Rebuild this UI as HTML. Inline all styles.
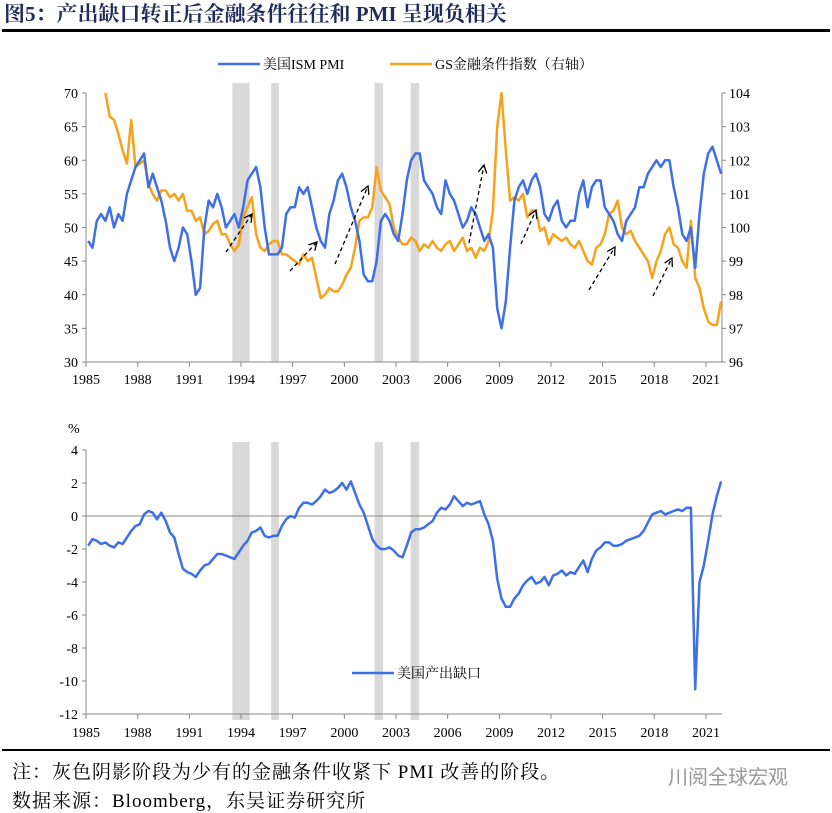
<!DOCTYPE html>
<html><head><meta charset="utf-8">
<style>
body{margin:0;background:#fff;}
svg{display:block;font-family:"Liberation Serif","Noto Serif CJK SC",serif;}
</style></head>
<body>
<svg id="c" width="832" height="813" viewBox="0 0 832 813" xmlns="http://www.w3.org/2000/svg">
<text x="4" y="21" font-size="21" font-weight="bold" fill="#1f2d5a">图5：产出缺口转正后金融条件往往和 PMI 呈现负相关</text>
<rect x="2" y="29" width="828" height="3" fill="#000"/>
<rect x="2" y="749" width="828" height="2" fill="#000"/>
<text x="12" y="778" font-size="19" letter-spacing="1">注：灰色阴影阶段为少有的金融条件收紧下 PMI 改善的阶段。</text>
<text x="12" y="807" font-size="19" letter-spacing="1">数据来源：Bloomberg，东吴证券研究所</text>
<text x="668" y="784" font-size="20" fill="#999" font-family="Liberation Sans,Noto Sans CJK SC,sans-serif">川阅全球宏观</text>
<g id="topg"></g><g id="botg"></g>
</svg>
<script>
const years=["1985","1988","1991","1994","1997","2000","2003","2006","2009","2012","2015","2018","2021"];
const leftTicks=[30,35,40,45,50,55,60,65,70];
const rightTicks=[96,97,98,99,100,101,102,103,104];
const botTicks=[-12,-10,-8,-6,-4,-2,0,2,4];
const pmiStart=1985;
const pmi=[48,47,51,52,51,53,50,52,51,55,57,59,60,61,56,58,56,54,51,47,45,47,50,49,45,40,41,50,54,53,55,53,50,51,52,50,53,57,58,59,56,50,46,46,46,47,52,53,53,56,55,56,53,50,48,47,52,54,57,58,56,53,51,48,43,42,42,45,51,52,51,49,48,52,57,60,61,61,57,56,55,53,52,57,55,54,52,50,51,53,52,50,48,49,47,38,35,39,47,54,56,57,55,57,58,56,52,51,53,54,51,50,51,51,55,57,53,56,57,57,53,52,51,49,48,51,52,53,56,56,58,59,60,59,60,60,56,53,49,48,50,44,52,58,61,62,60,58];
const fciStart=1986;
const fci=[104,103.3,103.2,102.8,102.3,101.9,103.2,101.8,101.9,102,101.3,101,100.8,101.1,101.1,100.9,101,100.8,101,100.5,100.5,100.2,100.3,99.8,99.9,100.1,100.2,99.8,99.8,99.5,99.3,99.5,100.3,100.6,100.9,99.8,99.4,99.3,99.5,99.6,99.6,99.2,99.2,99.1,99,98.9,99.2,99,99.1,98.5,97.9,98,98.2,98.1,98.1,98.3,98.6,98.8,99.4,100.2,100.3,100.3,100.6,101.8,101.1,100.9,100.7,100,99.7,99.5,99.5,99.7,99.6,99.3,99.5,99.4,99.6,99.4,99.3,99.5,99.6,99.3,99.5,99.7,99.3,99.4,99.1,99.4,99.3,99.6,100.5,103,104,102.3,100.8,100.9,100.8,101,100.3,100.5,100.5,99.9,100,99.5,99.8,99.7,99.6,99.7,99.5,99.4,99.6,99.3,99,98.9,99.4,99.5,99.8,100.4,100.5,100.8,100,99.8,99.9,99.6,99.4,99.2,99,98.5,99,99.3,99.8,100,99.5,99.4,99,98.8,100.2,98.5,98.2,97.6,97.2,97.1,97.1,97.8];
const gapStart=1985;
const gap=[-1.8,-1.4,-1.5,-1.7,-1.6,-1.8,-1.9,-1.6,-1.7,-1.3,-0.9,-0.6,-0.5,0.1,0.3,0.2,-0.2,0.2,-0.3,-1.0,-1.3,-2.3,-3.2,-3.4,-3.5,-3.7,-3.3,-3.0,-2.9,-2.6,-2.3,-2.3,-2.4,-2.5,-2.6,-2.2,-1.8,-1.5,-1.0,-0.9,-0.7,-1.2,-1.3,-1.2,-1.2,-0.6,-0.2,0.0,-0.1,0.5,0.8,0.8,0.7,0.9,1.2,1.6,1.4,1.5,1.7,2.0,1.6,2.1,1.4,0.7,0.2,-0.6,-1.4,-1.8,-2.0,-2.0,-1.9,-2.1,-2.4,-2.5,-1.8,-1.0,-0.8,-0.8,-0.7,-0.5,-0.3,0.2,0.5,0.4,0.7,1.2,0.9,0.6,0.8,0.7,0.8,0.9,0.1,-0.5,-1.5,-3.8,-5.0,-5.5,-5.5,-5.0,-4.7,-4.2,-3.9,-3.7,-4.1,-4.0,-3.7,-4.2,-3.6,-3.5,-3.3,-3.6,-3.4,-3.5,-3.1,-2.7,-3.4,-2.6,-2.1,-1.9,-1.6,-1.6,-1.8,-1.8,-1.7,-1.5,-1.4,-1.3,-1.2,-0.9,-0.4,0.1,0.2,0.3,0.1,0.2,0.3,0.4,0.3,0.5,0.5,-10.5,-4.0,-3.0,-1.5,0.1,1.2,2.1];
const shades=[[1993.5,1994.5],[1995.75,1996.2],[2001.75,2002.25],[2003.85,2004.35]];

const NS="http://www.w3.org/2000/svg";
const X=t=>86+(t-1985)*(706-86)/36;
const yL=v=>362-(v-30)*(362-93)/40;
const yR=v=>362-(v-96)*(362-93)/8;
const yB=v=>714-(v+12)*(714-450)/16;
function mk(tag,attrs,parent,txt){const e=document.createElementNS(NS,tag);for(const k in attrs)e.setAttribute(k,attrs[k]);if(txt!==undefined)e.textContent=txt;parent.appendChild(e);return e;}
const topG=document.getElementById('topg'),botG=document.getElementById('botg');

shades.forEach(s=>{
 let r=mk('rect',{x:X(s[0]),y:83,width:X(s[1])-X(s[0]),height:279,fill:'#d9d9d9'},topG);
 
 
 let r2=mk('rect',{x:X(s[0]),y:442,width:X(s[1])-X(s[0]),height:278,fill:'#d9d9d9'},botG);
 
 
});

let ax=mk('path',{d:`M86 93V362H722V93`,fill:'none',stroke:'#888','stroke-width':1},topG);


leftTicks.forEach(v=>{
 mk('line',{x1:82,x2:86,y1:yL(v),y2:yL(v),stroke:'#888'},topG);
 let t=mk('text',{x:78,y:yL(v)+5,'font-size':14,'text-anchor':'end'},topG,v);
 
 
});
rightTicks.forEach(v=>{
 mk('line',{x1:722,x2:726,y1:yR(v),y2:yR(v),stroke:'#888'},topG);
 let t=mk('text',{x:729,y:yR(v)+5,'font-size':14},topG,v);
 
 
});
years.forEach(y=>{
 const x=X(+y);
 mk('line',{x1:x,x2:x,y1:362,y2:367,stroke:'#888'},topG);
 let t=mk('text',{x:x,y:384,'font-size':14,'text-anchor':'middle'},topG,y);
 
 
 mk('line',{x1:x,x2:x,y1:714,y2:719,stroke:'#888'},botG);
 let t2=mk('text',{x:x,y:737,'font-size':14,'text-anchor':'middle'},botG,y);
 
 
});
function line(arr,start,yf,color,parent,name){
 const d=arr.map((v,i)=>(i?'L':'M')+X(start+i/4+0.125).toFixed(1)+' '+yf(v).toFixed(1)).join('');
 let p=mk('path',{d:d,fill:'none',stroke:color,'stroke-width':2.5,'stroke-linejoin':'round'},parent);
 
 
}
line(fci,fciStart,yR,'#f7a21b',topG,'gs-fci-line');
line(pmi,pmiStart,yL,'#3d6fe8',topG,'ism-pmi-line');
let lg=mk('g',{},topG);


mk('line',{x1:218,x2:260,y1:64,y2:64,stroke:'#3d6fe8','stroke-width':2.5},lg);
mk('text',{x:263,y:69,'font-size':14},lg,'美国ISM PMI');
mk('line',{x1:390,x2:432,y1:64,y2:64,stroke:'#f7a21b','stroke-width':2.5},lg);
mk('text',{x:435,y:69,'font-size':14},lg,'GS金融条件指数（右轴）');
const arrows=[[226,252,252,214],[290,271,317,242],[335,264,368,186],[469,243,484,165],[521,244,536,210],[589,290,615,247],[653,296,672,258]];
arrows.forEach(a=>{
 let g=mk('g',{},topG);
 
 
 mk('line',{x1:a[0],y1:a[1],x2:a[2],y2:a[3],stroke:'#000','stroke-width':1.3,'stroke-dasharray':'4 3'},g);
 const ang=Math.atan2(a[3]-a[1],a[2]-a[0]),L=9;
 const p1=[a[2]-L*Math.cos(ang-0.5),a[3]-L*Math.sin(ang-0.5)],p2=[a[2]-L*Math.cos(ang+0.5),a[3]-L*Math.sin(ang+0.5)];
 mk('path',{d:`M${p1[0]} ${p1[1]}L${a[2]} ${a[3]}L${p2[0]} ${p2[1]}`,fill:'none',stroke:'#000','stroke-width':1.3},g);
});

let ax2=mk('path',{d:`M86 450V714H722`,fill:'none',stroke:'#888'},botG);


mk('line',{x1:86,x2:722,y1:yB(0),y2:yB(0),stroke:'#888'},botG);
botTicks.forEach(v=>{
 mk('line',{x1:82,x2:86,y1:yB(v),y2:yB(v),stroke:'#888'},botG);
 let t=mk('text',{x:78,y:yB(v)+5,'font-size':14,'text-anchor':'end'},botG,v);
 
 
});
let u=mk('text',{x:68,y:433,'font-size':14},botG,'%');


line(gap,gapStart,yB,'#3d6fe8',botG,'output-gap-line');
let lg2=mk('g',{},botG);


mk('line',{x1:352,x2:394,y1:673,y2:673,stroke:'#3d6fe8','stroke-width':2.5},lg2);
mk('text',{x:397,y:678,'font-size':14},lg2,'美国产出缺口');
</script>
</body></html>
